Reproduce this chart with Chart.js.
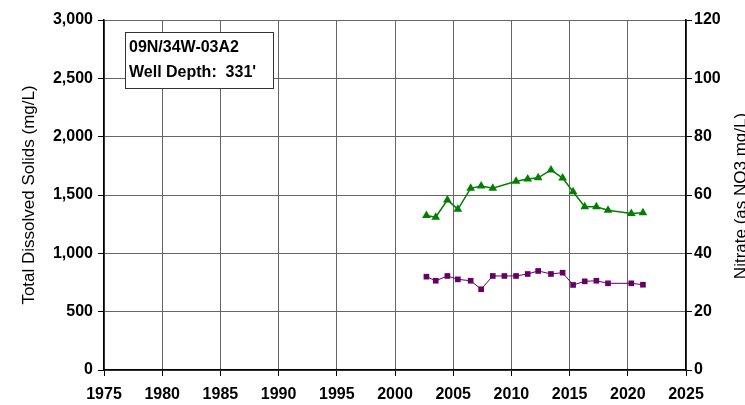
<!DOCTYPE html>
<html lang="en">
<head>
    <meta charset="UTF-8">
    <title>Well 09N/34W-03A2 - TDS and Nitrate</title>
    <script src="https://cdn.jsdelivr.net/npm/chart.js"></script>
    <style>
        html, body { margin: 0; padding: 0; background: #fff; }
        #wrap { width: 745px; height: 405px; position: relative; overflow: hidden; }
    </style>
</head>
<body>
    <div id="wrap"><canvas id="wellChart" width="745" height="405"></canvas></div>

    <script>
        // TDS samples (mg/L), left axis
        const tdsYears = [2002.7, 2003.5, 2004.5, 2005.4, 2006.5, 2007.4, 2008.4, 2009.4, 2010.4, 2011.4,
                          2012.3, 2013.4, 2014.4, 2015.3, 2016.3, 2017.3, 2018.3, 2020.3, 2021.3];
        const tdsValues = [800, 765, 806, 777, 765, 692, 806, 806, 806, 823,
                           849, 823, 834, 729, 760, 765, 743, 743, 731];

        // Nitrate samples (as NO3 mg/L), right axis
        const no3Years = [2002.7, 2003.5, 2004.5, 2005.4, 2006.5, 2007.4, 2008.4, 2010.4, 2011.4,
                          2012.3, 2013.4, 2014.4, 2015.3, 2016.3, 2017.3, 2018.3, 2020.3, 2021.3];
        const no3Values = [53.0, 52.4, 58.3, 55.1, 62.3, 63.1, 62.3, 64.7, 65.5,
                           65.9, 68.6, 65.8, 61.1, 56.0, 56.0, 54.8, 53.7, 53.9];

        const xTicks = [1975, 2025, 5];     // min, max, step
        const tdsTicks = [0, 3000, 500];
        const no3Ticks = [0, 120, 20];

        const wellName = '09N/34W-03A2';
        const wellDepth = "Well Depth:  331'";
        const leftTitle = 'Total Dissolved Solids (mg/L)';
        const rightTitle = 'Nitrate (as NO3 mg/L)';

        const toPoints = (xs, ys) => xs.map((x, i) => ({ x: x, y: ys[i] }));

        const tickFont = { family: 'Liberation Sans, Arial, sans-serif', size: 16, weight: 'bold' };

        // label box + right axis title (reads bottom to top, clipped at the page edge)
        const extras = {
            id: 'extras',
            afterDraw(chart) {
                const ctx = chart.ctx;
                ctx.save();
                ctx.fillStyle = '#fff';
                ctx.fillRect(125, 32, 148, 56);
                ctx.strokeStyle = '#333';
                ctx.lineWidth = 1;
                ctx.strokeRect(125.5, 32.5, 148, 56);
                ctx.fillStyle = '#000';
                ctx.font = 'bold 16px "Liberation Sans", Arial, sans-serif';
                ctx.textBaseline = 'alphabetic';
                ctx.textAlign = 'left';
                ctx.fillText(wellName, 129, 52);
                ctx.fillText(wellDepth, 129, 77);

                ctx.translate(746, 196);
                ctx.rotate(-Math.PI / 2);
                ctx.font = '17px "Liberation Sans", Arial, sans-serif';
                ctx.textAlign = 'center';
                ctx.fillText(rightTitle, 0, 0);
                ctx.restore();
            }
        };

        new Chart(document.getElementById('wellChart'), {
            type: 'line',
            data: {
                datasets: [{
                    label: 'TDS',
                    data: toPoints(tdsYears, tdsValues),
                    yAxisID: 'y',
                    borderColor: '#660066',
                    backgroundColor: '#660066',
                    borderWidth: 1,
                    pointStyle: 'rect',
                    pointRadius: 4,
                    pointBorderWidth: 0
                }, {
                    label: 'Nitrate',
                    data: toPoints(no3Years, no3Values),
                    yAxisID: 'y2',
                    borderColor: '#008000',
                    backgroundColor: '#008000',
                    borderWidth: 1.5,
                    pointStyle: 'triangle',
                    pointRadius: 5,
                    pointBorderWidth: 0
                }]
            },
            options: {
                responsive: false,
                animation: false,
                layout: { padding: { top: 20, left: 0, right: 0, bottom: 0 } },
                plugins: { legend: { display: false }, tooltip: { enabled: false } },
                scales: {
                    x: {
                        type: 'linear',
                        min: xTicks[0], max: xTicks[1],
                        afterFit(s) { s.height = 35; },
                        ticks: { stepSize: xTicks[2], color: '#000', font: tickFont, padding: 9, maxRotation: 0,
                                 callback: v => String(v) },
                        grid: { color: '#666', lineWidth: 1, tickLength: 6, tickColor: '#000' },
                        border: { color: '#000', width: 1.5 }
                    },
                    y: {
                        position: 'left',
                        min: tdsTicks[0], max: tdsTicks[1],
                        afterFit(s) { s.width = 104; },
                        ticks: { stepSize: tdsTicks[2], color: '#000', font: tickFont, padding: 5,
                                 callback: v => v.toLocaleString('en-US') },
                        grid: { color: '#666', lineWidth: 1, tickLength: 6, tickColor: '#000' },
                        border: { color: '#000', width: 1.5 },
                        title: { display: true, text: leftTitle, color: '#000',
                                 font: { family: 'Liberation Sans, Arial, sans-serif', size: 17 },
                                 padding: { top: 19, bottom: 0 } }
                    },
                    y2: {
                        position: 'right',
                        min: no3Ticks[0], max: no3Ticks[1],
                        afterFit(s) { s.width = 59; },
                        ticks: { stepSize: no3Ticks[2], color: '#000', font: tickFont, padding: 2 },
                        grid: { drawOnChartArea: false, tickLength: 6, tickColor: '#000' },
                        border: { color: '#000', width: 1.5 }
                    }
                }
            },
            plugins: [extras]
        });
    </script>
</body>
</html>
